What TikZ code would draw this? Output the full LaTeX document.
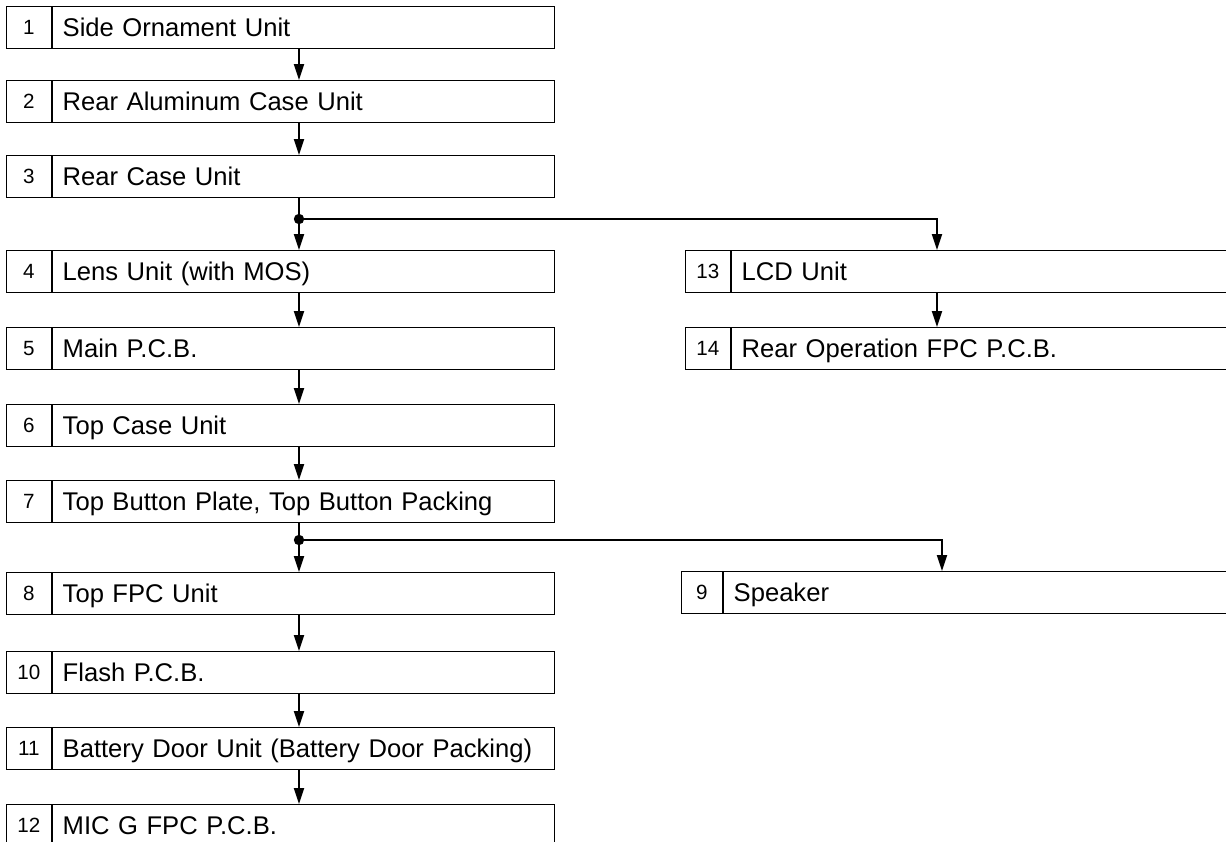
\documentclass[tikz,border=0pt]{standalone}
\usepackage{fontspec}
\setmainfont{Liberation Sans}
\usetikzlibrary{positioning, arrows.meta}

\begin{document}
\begin{tikzpicture}[x=0.5pt, y=-0.5pt, >={Triangle[length=8pt,width=5pt]},
  partbox/.style={draw, line width=0.7pt, anchor=north west, minimum height=20.75pt,
    text width=241pt, inner xsep=5pt, inner ysep=0pt, align=left,
    text height=9.2pt, text depth=0pt, font=\fontsize{12.8}{15}\selectfont},
  numbox/.style={draw, line width=0.7pt, anchor=north east, minimum width=22.5pt,
    minimum height=20.75pt, inner sep=0pt, text height=7.4pt, text depth=0pt,
    font=\fontsize{10.3}{12}\selectfont},
  flow/.style={line width=1pt, ->}]
  \useasboundingbox (0,0) rectangle (1226,841);

  \node[partbox] (p1)  at (52,6)   {Side Ornament Unit};
  \node[partbox] (p2)  at (52,80)  {Rear Aluminum Case Unit};
  \node[partbox] (p3)  at (52,155) {Rear Case Unit};
  \node[partbox] (p4)  at (52,250) {Lens Unit (with MOS)};
  \node[partbox] (p5)  at (52,327) {Main P.C.B.};
  \node[partbox] (p6)  at (52,404) {Top Case Unit};
  \node[partbox] (p7)  at (52,480) {Top Button Plate, Top Button Packing};
  \node[partbox] (p8)  at (52,572) {Top FPC Unit};
  \node[partbox] (p10) at (52,651) {Flash P.C.B.};
  \node[partbox] (p11) at (52,727) {Battery Door Unit (Battery Door Packing)};
  \node[partbox] (p12) at (52,804) {MIC G FPC P.C.B.};
  \node[partbox,text width=244.5pt] (p13) at (731,250) {LCD Unit};
  \node[partbox,text width=244.5pt] (p14) at (731,327) {Rear Operation FPC P.C.B.};
  \node[partbox,text width=248.5pt] (p9)  at (723,571) {Speaker};

  \foreach \p/\k in {p1/1,p2/2,p3/3,p4/4,p5/5,p6/6,p7/7,p8/8,p10/10,p11/11,p12/12,p13/13,p14/14}
    \node[numbox] (k\k) at (\p.north west) {\k};
  \node[numbox,minimum width=20.5pt] (k9) at (p9.north west) {9};

  \coordinate (j1) at (299,219);
  \coordinate (j2) at (299,540);
  \coordinate (r1) at (937,219);
  \coordinate (r2) at (942,540);

  \foreach \a/\b in {p1/p2,p2/p3,p4/p5,p5/p6,p6/p7,p8/p10,p10/p11,p11/p12}
    \draw[flow] (\a.south -| j1) -- (\b.north -| j1);
  \draw[line width=1pt] (p3.south -| j1) -- (j1) (p7.south -| j2) -- (j2);
  \draw[flow] (j1) -- (p4.north -| j1);
  \draw[flow] (j2) -- (p8.north -| j2);
  \draw[flow] (j1) -- (r1) -- (p13.north -| r1);
  \draw[flow] (j2) -- (r2) -- (p9.north -| r2);
  \draw[flow] (p13.south -| r1) -- (p14.north -| r1);
  \fill (j1) circle[radius=2.6pt] (j2) circle[radius=2.6pt];
\end{tikzpicture}
\end{document}
